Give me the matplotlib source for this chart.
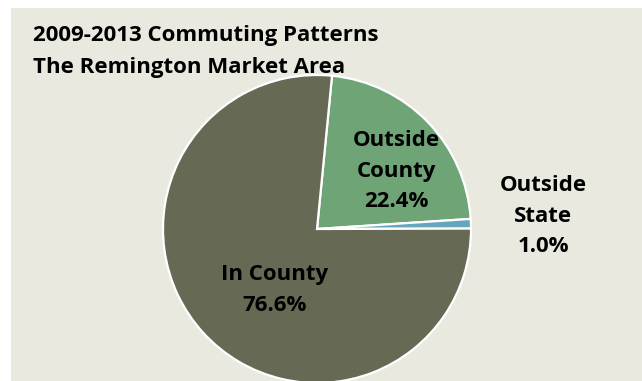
import matplotlib
matplotlib.use("Agg")
import matplotlib.pyplot as plt
from matplotlib.patches import Rectangle

# Commuting destinations of workers, 2009-2013
categories = ["Outside\nCounty", "Outside\nState", "In County"]
shares = [22.4, 1.0, 76.6]
colors = ["#6FA477", "#66A6BC", "#666A54"]
title_lines = ["2009-2013 Commuting Patterns", "The Remington Market Area"]

W, H = 642, 381
fig = plt.figure(figsize=(W / 100, H / 100), dpi=100, facecolor="white")
ax = fig.add_axes([0, 0, 1, 1])
ax.set_xlim(0, W)
ax.set_ylim(0, H)
ax.set_aspect("equal")
ax.axis("off")

# chart area panel
ax.add_patch(Rectangle((11, 0), W - 11, H - 8, facecolor="#E9E9DF",
                       edgecolor="none", zorder=0))

font = "Open Sans"
fs = 16

wedges, _ = ax.pie(shares, colors=colors, startangle=84.4, counterclock=False,
                   center=(317, H - 229), radius=154, frame=True,
                   wedgeprops=dict(edgecolor="white", linewidth=1.6))
for w in wedges:
    w.set_zorder(2)
ax.set_xlim(0, W)
ax.set_ylim(0, H)
ax.axis("off")

label_pos = [(396, 171), (543, 216), (275, 290)]
for name, val, (x, y) in zip(categories, shares, label_pos):
    ax.text(x, H - y, f"{name}\n{val:.1f}%", ha="center", va="center",
            fontsize=fs, fontweight="bold", family=font, color="black",
            linespacing=1.6, zorder=5)

for i, line in enumerate(title_lines):
    ax.text(33, H - (36 + 31 * i), line, ha="left", va="center",
            fontsize=fs, fontweight="bold", family=font, color="black",
            zorder=5)

fig.savefig("out.png", dpi=100, facecolor="white")
